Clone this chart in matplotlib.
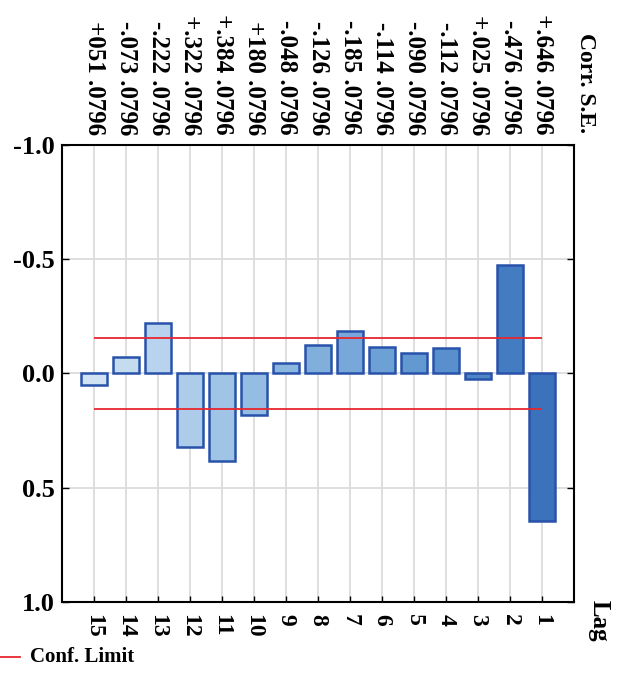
import numpy as np
import matplotlib
matplotlib.use("Agg")
import matplotlib.pyplot as plt
from matplotlib.lines import Line2D
from matplotlib.transforms import blended_transform_factory
from matplotlib.colors import LinearSegmentedColormap

# autocorrelation by lag (order as drawn: lag 15 on the left)
lags = [15, 14, 13, 12, 11, 10, 9, 8, 7, 6, 5, 4, 3, 2, 1]
corr = [0.051, -0.073, -0.222, 0.322, 0.384, 0.180, -0.048, -0.126,
        -0.185, -0.114, -0.090, -0.112, 0.025, -0.476, 0.646]
corr_txt = ["+051", "-.073", "-.222", "+.322", "+.384", "+180", "-.048", "-.126",
            "-.185", "-.114", "-.090", "-.112", "+.025", "-.476", "+.646"]
se = [0.0796] * 15
conf_limit = 0.156
yticks = [-1.0, -0.5, 0.0, 0.5, 1.0]

plt.rcParams['font.family'] = ['Liberation Serif', 'DejaVu Serif']
plt.rcParams['font.weight'] = 'bold'

fig = plt.figure(figsize=(6.22, 6.80), dpi=100)
W, H = 622, 680
L, R, T, B = 62, 574, 145, 602
ax = fig.add_axes([L / W, 1 - B / H, (R - L) / W, (B - T) / H])

x = np.arange(len(lags))

# colours get darker from left to right
cmap = LinearSegmentedColormap.from_list('bl', ['#d0e2f3', '#98bfe4', '#6a9fd5', '#3a72bb'])
cols = [cmap(i / (len(lags) - 1)) for i in x]

ax.set_axisbelow(True)
ax.grid(True, color='#dcdcdc', lw=1.3)
ax.bar(x, corr, width=0.8, color=cols, edgecolor='#2852ab', linewidth=1.8, zorder=2)
ax.hlines([-conf_limit, conf_limit], x[0], x[-1], color='#e8262e', lw=1.3, zorder=3)

ax.set_xlim(-1, len(lags))
ax.set_ylim(1.0, -1.0)
ax.set_yticks(yticks)
ax.set_yticklabels([f"{v:.1f}" for v in yticks], fontsize=19, fontweight='bold')
ax.set_xticks(x)
ax.set_xticklabels([str(v) for v in lags], rotation=-90, fontsize=17, fontweight='bold')
ax.tick_params(axis='y', direction='in', length=5, width=1, right=True, pad=5)
ax.tick_params(axis='x', direction='in', length=4, width=1, pad=9)
for s in ax.spines.values():
    s.set_linewidth(1.5)

# correlation / standard error labels above plot
trans = blended_transform_factory(ax.transData, fig.transFigure)
for xi, c, e in zip(x, corr_txt, se):
    ax.text(xi, 1 - 135 / H, f"{c} {e:.4f}".replace("0.", "."), transform=trans,
            rotation=-90, ha='center', va='bottom', fontsize=18, fontweight='bold')

fig.text(586 / W, 1 - 133 / H, "Corr. S.E.", rotation=-90, ha='center', va='bottom',
         fontsize=17, fontweight='bold')
fig.text(599 / W, 1 - 600 / H, "Lag", rotation=-90, ha='center', va='top',
         fontsize=18, fontweight='bold')

# legend
fig.add_artist(Line2D([0, 20 / W], [1 - 657 / H] * 2, color='#e8262e', lw=1.3,
                      transform=fig.transFigure))
fig.text(30 / W, 1 - 657 / H, "Conf. Limit", ha='left', va='center',
         fontsize=15, fontweight='bold')

fig.savefig('out.png', dpi=100)
